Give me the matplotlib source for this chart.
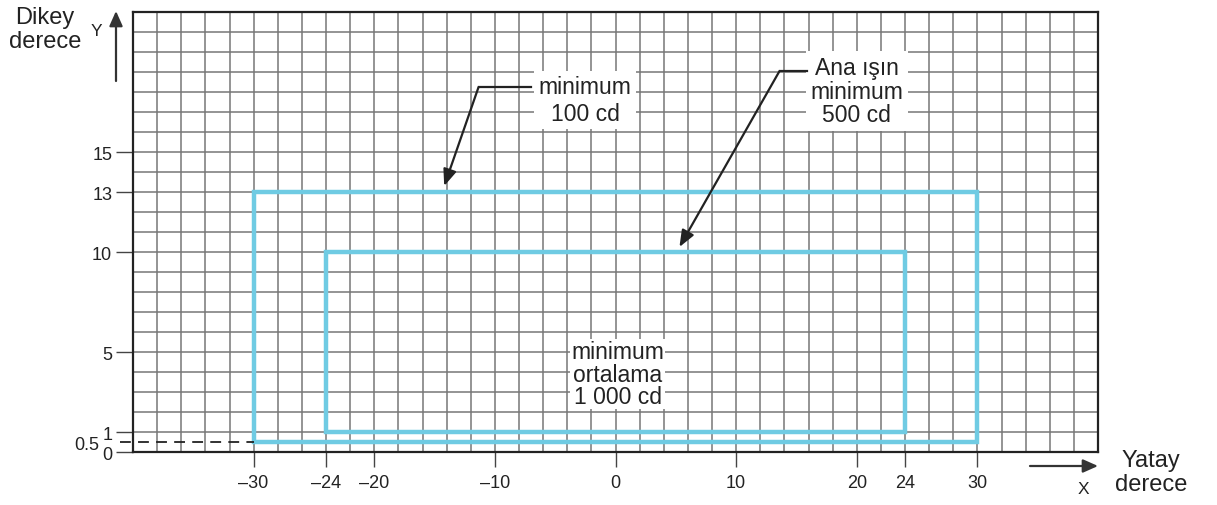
import matplotlib
matplotlib.use("Agg")
import matplotlib.pyplot as plt
from matplotlib.patches import Rectangle
import matplotlib.transforms as mtransforms

plt.rcParams['font.family'] = ['Liberation Sans', 'DejaVu Sans']

# data
x_ticks = [-30, -24, -20, -10, 0, 10, 20, 24, 30]
y_ticks = [0, 0.5, 1, 5, 10, 13, 15]
y_tick_labels = ['0', '0.5', '1', '5', '10', '13', '15']
outer_rect = {'x': [-30, 30], 'y': [0.5, 13]}   # minimum 100 cd
inner_rect = {'x': [-24, 24], 'y': [1, 10]}     # minimum 500 cd
x_range = [-40, 40]
y_range = [0, 22]

W, H = 1217, 506
fig = plt.figure(figsize=(W / 100, H / 100), dpi=100)
ax = fig.add_axes([133 / W, 1 - 453 / H, (1098 - 133) / W, (453 - 13) / H])
ax.set_xlim(*x_range)
ax.set_ylim(*y_range)

# grid
for gx in range(x_range[0] + 2, x_range[1], 2):
    ax.axvline(gx, color='#767676', lw=1.1, zorder=1)
for gy in range(y_range[0] + 1, y_range[1]):
    ax.axhline(gy, color='#767676', lw=1.1, zorder=1)

for s in ax.spines.values():
    s.set_linewidth(1.6)
    s.set_color('#222222')
    s.set_zorder(5)

blue = '#6fcbe3'
for r in (outer_rect, inner_rect):
    ax.add_patch(Rectangle((r['x'][0], r['y'][0]), r['x'][1] - r['x'][0], r['y'][1] - r['y'][0],
                           fill=False, edgecolor=blue, lw=3.2, zorder=3))

# dashed line at y=0.5
ax.plot([-41.1, outer_rect['x'][0]], [0.5, 0.5], ls=(0, (6, 4)), color='#222222', lw=1.3,
        clip_on=False, zorder=4)

ax.set_xticks(x_ticks)
ax.set_xticklabels([f"\u2013{abs(v)}" if v < 0 else str(v) for v in x_ticks])
ax.set_yticks(y_ticks)
ax.set_yticklabels(y_tick_labels)
ax.tick_params(axis='x', length=11, width=1.0, pad=5, labelsize=13, color='#444444',
               labelcolor='#222222')
ax.tick_params(axis='y', length=12, width=1.0, pad=3, labelsize=13, color='#444444',
               labelcolor='#222222')
for t in ax.yaxis.get_major_ticks():
    if abs(t.get_loc() - 0.5) < 1e-6:
        t.tick1line.set_visible(False)
for lab in ax.get_yticklabels():
    if lab.get_text() == '0.5':
        lab.set_transform(lab.get_transform() + mtransforms.ScaledTranslation(-13 / 100, 0, fig.dpi_scale_trans))

fs = 16.5
bbox = dict(boxstyle='square,pad=0.2', facecolor='white', edgecolor='none')

ax.text(-2.5, 17.6, 'minimum\n100 cd', ha='center', va='center', fontsize=fs, bbox=bbox, zorder=6,
        linespacing=1.2, color='#222222')
ax.text(20.0, 18.05, 'Ana ışın\nminimum\n500 cd', ha='center', va='center', fontsize=fs, bbox=bbox,
        zorder=6, linespacing=1.05, color='#222222')
ax.text(0.2, 3.9, 'minimum\nortalama\n1 000 cd', ha='center', va='center', fontsize=fs,
        bbox=dict(boxstyle='square,pad=0.05', facecolor='white', edgecolor='none'), zorder=6,
        linespacing=0.95, color='#222222')

arrow_kw = dict(arrowstyle='-|>,head_length=1.0,head_width=0.4', color='#222222', lw=1.6,
                shrinkA=0, shrinkB=0)
ax.plot([-11.35, -7.0], [18.25, 18.25], color='#222222', lw=1.6, zorder=7)
ax.annotate('', xy=(-14.2, 13.3), xytext=(-11.35, 18.25), arrowprops=arrow_kw, zorder=7)
ax.plot([13.6, 15.85], [19.05, 19.05], color='#222222', lw=1.6, zorder=7)
ax.annotate('', xy=(5.3, 10.25), xytext=(13.6, 19.05), arrowprops=arrow_kw, zorder=7)

# outside labels
def fp(px, py):
    return (px / W, 1 - py / H)

fig.text(*fp(45, 30), 'Dikey\nderece', ha='center', va='center', fontsize=17, linespacing=1.1,
         color='#222222')
fig.text(*fp(96, 32), 'Y', ha='center', va='center', fontsize=12.5, color='#222222')
ax.annotate('', xy=fp(116, 12), xytext=fp(116, 82), xycoords='figure fraction',
            textcoords='figure fraction',
            arrowprops=dict(arrowstyle='-|>,head_length=0.9,head_width=0.4', color='#333333', lw=1.6,
                            shrinkA=0, shrinkB=0), annotation_clip=False)
fig.text(*fp(1151, 473), 'Yatay\nderece', ha='center', va='center', fontsize=17, linespacing=1.1,
         color='#222222')
fig.text(*fp(1083, 490), 'X', ha='center', va='center', fontsize=12.5, color='#222222')
ax.annotate('', xy=fp(1098, 467), xytext=fp(1030, 467), xycoords='figure fraction',
            textcoords='figure fraction',
            arrowprops=dict(arrowstyle='-|>,head_length=0.9,head_width=0.4', color='#333333', lw=1.6,
                            shrinkA=0, shrinkB=0), annotation_clip=False)

fig.savefig('out.png', dpi=100, facecolor='white')
